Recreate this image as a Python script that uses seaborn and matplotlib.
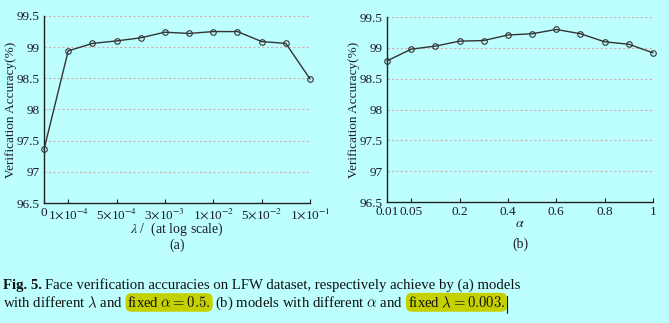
import numpy as np
import pandas as pd
import matplotlib
matplotlib.use("Agg")
import matplotlib.pyplot as plt
import seaborn as sns
from matplotlib.lines import Line2D
from matplotlib.transforms import IdentityTransform

# ---------------- data ----------------
lambda_values = ["0", "1e-4", "2.5e-4", "5e-4", "1e-3", "3e-3", "5e-3", "1e-2", "2e-2", "5e-2", "7e-2", "1e-1"]
acc_lambda = [97.36, 98.94, 99.06, 99.10, 99.15, 99.24, 99.22, 99.25, 99.25, 99.09, 99.06, 98.49]
lambda_tick_idx = [0, 1, 3, 5, 7, 9, 11]
lambda_tick_labels = ["0", r"1$\times$10$^{-4}$", r"5$\times$10$^{-4}$", r"3$\times$10$^{-3}$",
                      r"1$\times$10$^{-2}$", r"5$\times$10$^{-2}$", r"1$\times$10$^{-1}$"]

alpha_values = [0.01, 0.05, 0.1, 0.2, 0.3, 0.4, 0.5, 0.6, 0.7, 0.8, 0.9, 1.0]
acc_alpha = [98.79, 98.98, 99.03, 99.11, 99.12, 99.21, 99.23, 99.30, 99.23, 99.10, 99.06, 98.92]
alpha_tick_idx = [0, 1, 3, 5, 7, 9, 11]
alpha_tick_labels = ["0.01", "0.05", "0.2", "0.4", "0.6", "0.8", "1"]

y_ticks = [96.5, 97, 97.5, 98, 98.5, 99, 99.5]
y_tick_labels = ["96.5", "97", "97.5", "98", "98.5", "99", "99.5"]

# ---------------- style ----------------
BG = "#bdffff"
TXT = "#1c1c2c"
sns.set_theme(style="white")
plt.rcParams["font.family"] = ["Liberation Serif", "DejaVu Serif"]
plt.rcParams["mathtext.fontset"] = "stix"

fig = plt.figure(figsize=(6.69, 3.23), dpi=100, facecolor=BG)

def panel(rect, labels_x, vals, tick_idx, tick_labels, xlabel, sub):
    ax = fig.add_axes(rect)
    ax.set_facecolor(BG)
    df = pd.DataFrame({"pos": np.arange(len(labels_x)), "acc": vals})
    sns.lineplot(data=df, x="pos", y="acc", ax=ax, color="#333333", linewidth=1.0,
                 marker="o", markersize=4, markerfacecolor="none",
                 markeredgecolor="#333333", markeredgewidth=0.8, clip_on=False, zorder=3)
    ax.set_xlim(0, len(labels_x) - 1)
    ax.set_ylim(96.5, 99.5)
    ax.set_yticks(y_ticks)
    ax.set_yticklabels(y_tick_labels, fontsize=9.5, color=TXT)
    ax.set_xticks(tick_idx)
    ax.set_xticklabels(tick_labels, fontsize=9.5, color=TXT)
    for g in y_ticks[1:]:
        ax.axhline(g, color="#d9a9b0", linestyle=(0, (2, 2)), linewidth=0.8, zorder=1)
    for s in ["top", "right"]:
        ax.spines[s].set_visible(False)
    for s in ["left", "bottom"]:
        ax.spines[s].set_color("#222222")
        ax.spines[s].set_linewidth(1.0)
    ax.tick_params(axis="x", direction="in", length=3, width=0.8, color="#222222", pad=3, bottom=True)
    ax.tick_params(axis="y", length=0, pad=3)
    ax.set_ylabel("Verification Accuracy(%)", fontsize=9.5, color=TXT, labelpad=0)
    ax.set_xlabel(xlabel, fontsize=10, color=TXT, labelpad=-1)
    ax.text(0.5, -0.228, sub, transform=ax.transAxes, ha="center", va="center", fontsize=10, color=TXT)
    return ax

panel([0.0658, 0.3715, 0.3976, 0.579], lambda_values, acc_lambda, lambda_tick_idx,
      lambda_tick_labels, r"$\lambda$ /  (at log scale)", "(a)")
panel([0.5785, 0.3746, 0.3976, 0.5724], alpha_values, acc_alpha, alpha_tick_idx,
      alpha_tick_labels, r"$\alpha$", "(b)")

# ---------------- caption ----------------
plt.rcParams["mathtext.fontset"] = "cm"
renderer = fig.canvas.get_renderer()
CAP_FS = 10.6
HL = "#c5d000"
SPACE = 3.5

def write_line(segments, x0_px, y_px):
    x = x0_px
    for txt, bold, hl, gap in segments:
        x += gap
        t = fig.text(x, 323 - y_px, txt, fontsize=CAP_FS, color="#111111", ha="left",
                     va="baseline", fontweight="bold" if bold else "normal",
                     family=["Liberation Serif", "DejaVu Serif"])
        t.set_transform(IdentityTransform())
        if hl:
            t.set_bbox(dict(boxstyle="round,pad=0.12,rounding_size=0.4", facecolor=HL, edgecolor="none"))
        bb = t.get_window_extent(renderer)
        x = bb.x1
    return x

write_line([("Fig. 5.", True, False, 0),
            ("Face verification accuracies on LFW dataset, respectively achieve by (a) models", False, False, SPACE)],
           3, 289)
xe = write_line([("with different $\\lambda$ and", False, False, 0),
                 ("fixed $\\alpha = 0.5.$", False, True, SPACE + 1),
                 ("(b) models with different $\\alpha$ and", False, False, SPACE + 1),
                 ("fixed $\\lambda = 0.003.$", False, True, SPACE + 1)],
                3, 307)
fig.add_artist(Line2D([xe + 2, xe + 2], [323 - 313, 323 - 296], transform=IdentityTransform(),
                      color="#111111", linewidth=0.8))

fig.savefig("out.png", dpi=100, facecolor=BG)
